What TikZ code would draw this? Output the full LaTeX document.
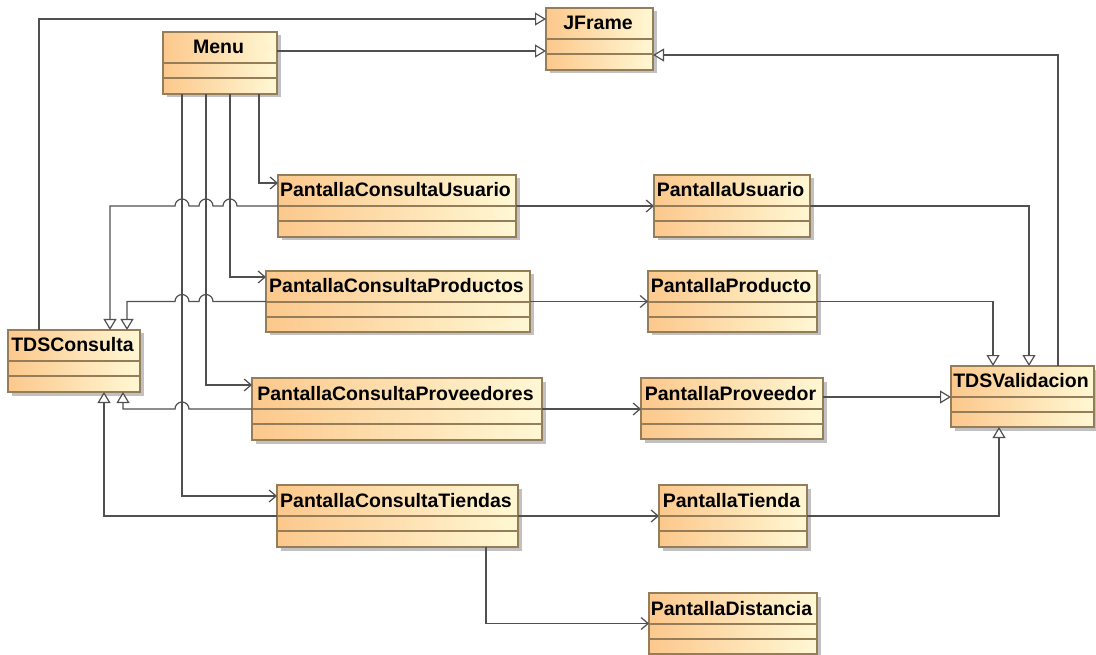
\documentclass[tikz,border=0pt]{standalone}
\usepackage{fontspec}
\setmainfont{Liberation Sans}
\usetikzlibrary{arrows.meta,shadows}
\definecolor{boxleft}{RGB}{252,200,140}
\definecolor{boxright}{RGB}{255,248,212}
\definecolor{boxline}{RGB}{150,125,90}
\definecolor{conn}{RGB}{80,80,80}
\tikzset{
  clsbox/.style={rectangle, inner sep=0pt, outer sep=0pt, draw=boxline, line width=1.2pt,
    left color=boxleft, right color=boxright,
    drop shadow={shadow xshift=3.5pt, shadow yshift=-3.5pt, fill=black!40, opacity=0.6}},
  sepline/.style={draw=boxline, line width=1.1pt},
  clstitle/.style={anchor=base, inner sep=0pt, font=\fontsize{19.5}{20}\selectfont\bfseries},
  conline/.style={draw=conn, line width=1.2pt, rounded corners=0pt},
  gen/.style={conline, -{Triangle[open, length=11pt, width=13pt, fill=white]}},
  assoc/.style={conline, -{Straight Barb[length=7pt, width=12pt]}},
}
\newcommand\umlcls[6]{%
  \node[clsbox, minimum width={(#4-#2)*1pt}, minimum height={(#5-#3)*1pt}] (#1) at ({(#2+#4)/2},{(#3+#5)/2}) {};
  \draw[sepline] ([yshift=-31pt]#1.north west) -- ([yshift=-31pt]#1.north east);
  \draw[sepline] ([yshift=-46pt]#1.north west) -- ([yshift=-46pt]#1.north east);
  \node[clstitle] (#1-t) at ([xshift=-1.5pt,yshift=-22pt]#1.north) {#6};
}
\begin{document}
\begin{tikzpicture}[x=1pt,y=-1pt]
\useasboundingbox[fill=white] (0,0) rectangle (1096,655);
% classes
\umlcls{menu}{163}{32}{277}{94}{Menu}
\umlcls{jframe}{546}{8}{653}{70}{JFrame}
\umlcls{pcu}{278}{175}{516}{237}{PantallaConsultaUsuario}
\umlcls{pu}{654}{175}{810}{237}{PantallaUsuario}
\umlcls{pcprod}{266}{271}{530}{332}{PantallaConsultaProductos}
\umlcls{pp}{648}{271}{817}{332}{PantallaProducto}
\umlcls{tdsc}{8}{330}{140}{392}{TDSConsulta}
\umlcls{pcprov}{252}{378}{542}{440}{PantallaConsultaProveedores}
\umlcls{pprov}{641}{378}{823}{439}{PantallaProveedor}
\umlcls{tdsv}{951}{366}{1094}{427}{TDSValidacion}
\umlcls{pct}{277}{485}{518}{547}{PantallaConsultaTiendas}
\umlcls{pt}{659}{485}{807}{547}{PantallaTienda}
\umlcls{pd}{649}{593}{817}{654}{PantallaDistancia}
% generalizations to JFrame
\draw[gen] (tdsc.north -| 39,0) |- (jframe.west |- 0,19);
\draw[gen] (menu.east |- 0,51) -- (jframe.west |- 0,51);
\draw[gen] (tdsv.north -| 1058,0) |- (jframe.east |- 0,55);
% Menu associations
\draw[assoc] (menu.south -| 259,0) |- (pcu.west |- 0,183);
\draw[assoc] (menu.south -| 230,0) |- (pcprod.west |- 0,277);
\draw[assoc] (menu.south -| 206,0) |- (pcprov.west |- 0,385);
\draw[assoc] (menu.south -| 182,0) |- (pct.west |- 0,496);
% generalizations to TDSConsulta (with line hops)
\draw[gen] (pcu.west) -- (237,206) arc[start angle=0, end angle=180, radius=7pt]
  -- (213,206) arc[start angle=0, end angle=180, radius=7pt]
  -- (189,206) arc[start angle=0, end angle=180, radius=7pt]
  -- (110,206) -- (tdsc.north -| 110,0);
\draw[gen] (pcprod.west) -- (213,301.5) arc[start angle=0, end angle=180, radius=7pt]
  -- (189,301.5) arc[start angle=0, end angle=180, radius=7pt]
  -- (127,301.5) -- (tdsc.north -| 127,0);
\draw[gen] (pcprov.west) -- (189,409) arc[start angle=0, end angle=180, radius=7pt]
  -- (123,409) -- (tdsc.south -| 123,0);
\draw[gen] (pct.west) -- (104,516) -- (tdsc.south -| 104,0);
% associations to detail screens
\draw[assoc] (pcu.east) -- (pu.west);
\draw[assoc] (pcprod.east) -- (pp.west);
\draw[assoc] (pcprov.east) -- (pprov.west |- pcprov.east);
\draw[assoc] (pct.east) -- (pt.west);
\draw[assoc] (pct.south -| 486,0) |- (pd.west);
% generalizations to TDSValidacion
\draw[gen] (pu.east) -| (tdsv.north -| 1029,0);
\draw[gen] (pp.east) -| (tdsv.north -| 993,0);
\draw[gen] (pprov.east |- 0,397) -- (tdsv.west |- 0,397);
\draw[gen] (pt.east) -| (tdsv.south -| 999,0);
\end{tikzpicture}
\end{document}
